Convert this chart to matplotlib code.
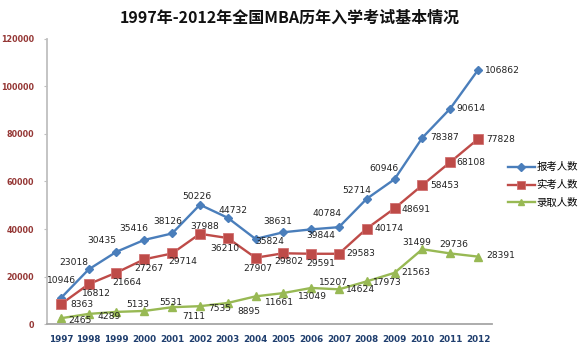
import matplotlib
matplotlib.use("Agg")
import matplotlib.pyplot as plt

plt.rcParams['font.family'] = ['Noto Sans CJK SC', 'DejaVu Sans']

years = [str(y) for y in range(1997, 2013)]
baokao = [10946, 23018, 30435, 35416, 38126, 50226, 44732, 35824, 38631, 39844,
          40784, 52714, 60946, 78387, 90614, 106862]
shikao = [8363, 16812, 21664, 27267, 29714, 37988, 36210, 27907, 29802, 29591,
          29583, 40174, 48691, 58453, 68108, 77828]
luqu = [2465, 4289, 5133, 5531, 7111, 7535, 8895, 11661, 13049, 15207,
        14624, 17973, 21563, 31499, 29736, 28391]
series_names = ['报考人数', '实考人数', '录取人数']
yticks = [0, 20000, 40000, 60000, 80000, 100000, 120000]

# label offsets in pixels (dx, dy)
off_b = [(1, 18), (-15, 7), (-15, 11), (-10, 11), (-4, 12), (-3, 8), (5, 7), (14, -3),
         (-6, 11), (10, -6), (-12, 14), (-10, 8), (-11, 11), (22, 0), (21, 0), (25, 0)]
off_r = [(21, 0), (8, -9), (10, -10), (5, -9), (11, -8), (5, 7), (-3, -10), (2, -11),
         (6, -8), (10, -10), (22, 0), (22, 0), (21, -1), (22, 0), (21, 0), (23, 0)]
off_g = [(19, -2), (20, -3), (21, 7), (26, 8), (22, -9), (20, -2), (21, -9), (24, -6),
         (29, -3), (22, 5), (22, 0), (21, -1), (21, 0), (-6, 7), (4, 9), (23, 1)]

blue = '#4A7EBB'
red = '#BE4B48'
green = '#98B954'

fig = plt.figure(figsize=(5.8, 3.5), dpi=100)
ax = fig.add_axes([0.081, 0.074, 0.767, 0.815])
x = list(range(len(years)))

l1, = ax.plot(x, baokao, color=blue, lw=1.7, marker='D', ms=4.5, mfc=blue, mec=blue)
l2, = ax.plot(x, shikao, color=red, lw=1.7, marker='s', ms=6.5, mfc=red, mec='#D07070', mew=0.6)
l3, = ax.plot(x, luqu, color=green, lw=1.7, marker='^', ms=5.5, mfc=green, mec=green)

for vals, offs in ((baokao, off_b), (shikao, off_r), (luqu, off_g)):
    for i, (v, o) in enumerate(zip(vals, offs)):
        ax.annotate(str(v), (i, v), xytext=o, textcoords='offset pixels',
                    ha='center', va='center', fontsize=6.6, color='#222222',
                    family='DejaVu Sans')

ax.set_xlim(-0.5, len(years) - 0.5)
ax.set_ylim(0, 120000)
ax.set_xticks(x)
ax.set_xticklabels(years)
ax.set_yticks(yticks)
ax.set_yticklabels([str(t) for t in yticks])
for lab in ax.get_xticklabels():
    lab.set_color('#1F3E6E'); lab.set_fontweight('bold'); lab.set_fontsize(6.3)
    lab.set_family('DejaVu Sans')
for lab in ax.get_yticklabels():
    lab.set_color('#953735'); lab.set_fontweight('bold'); lab.set_fontsize(5.8)
    lab.set_family('DejaVu Sans')
ax.tick_params(axis='x', length=0, pad=8)
ax.tick_params(axis='y', length=2, color='#BFBFBF', pad=7)
for s in ('top', 'right'):
    ax.spines[s].set_visible(False)
ax.spines['left'].set_color('#BFBFBF')
ax.spines['left'].set_linewidth(1.3)
ax.spines['bottom'].set_color('#A6A6A6')
ax.spines['bottom'].set_linewidth(1.3)

fig.text(0.5, 0.95, '1997年-2012年全国MBA历年入学考试基本情况', ha='center', va='center',
         fontsize=11.5, fontweight='bold', color='#111111')

leg = fig.legend([l1, l2, l3], series_names, loc='center left',
                 bbox_to_anchor=(0.875, 0.471), frameon=False, fontsize=7.5,
                 handlelength=2.6, handletextpad=0.2, labelspacing=0.75,
                 borderaxespad=0, borderpad=0, markerscale=0.8)

fig.savefig('out.png', dpi=100)
